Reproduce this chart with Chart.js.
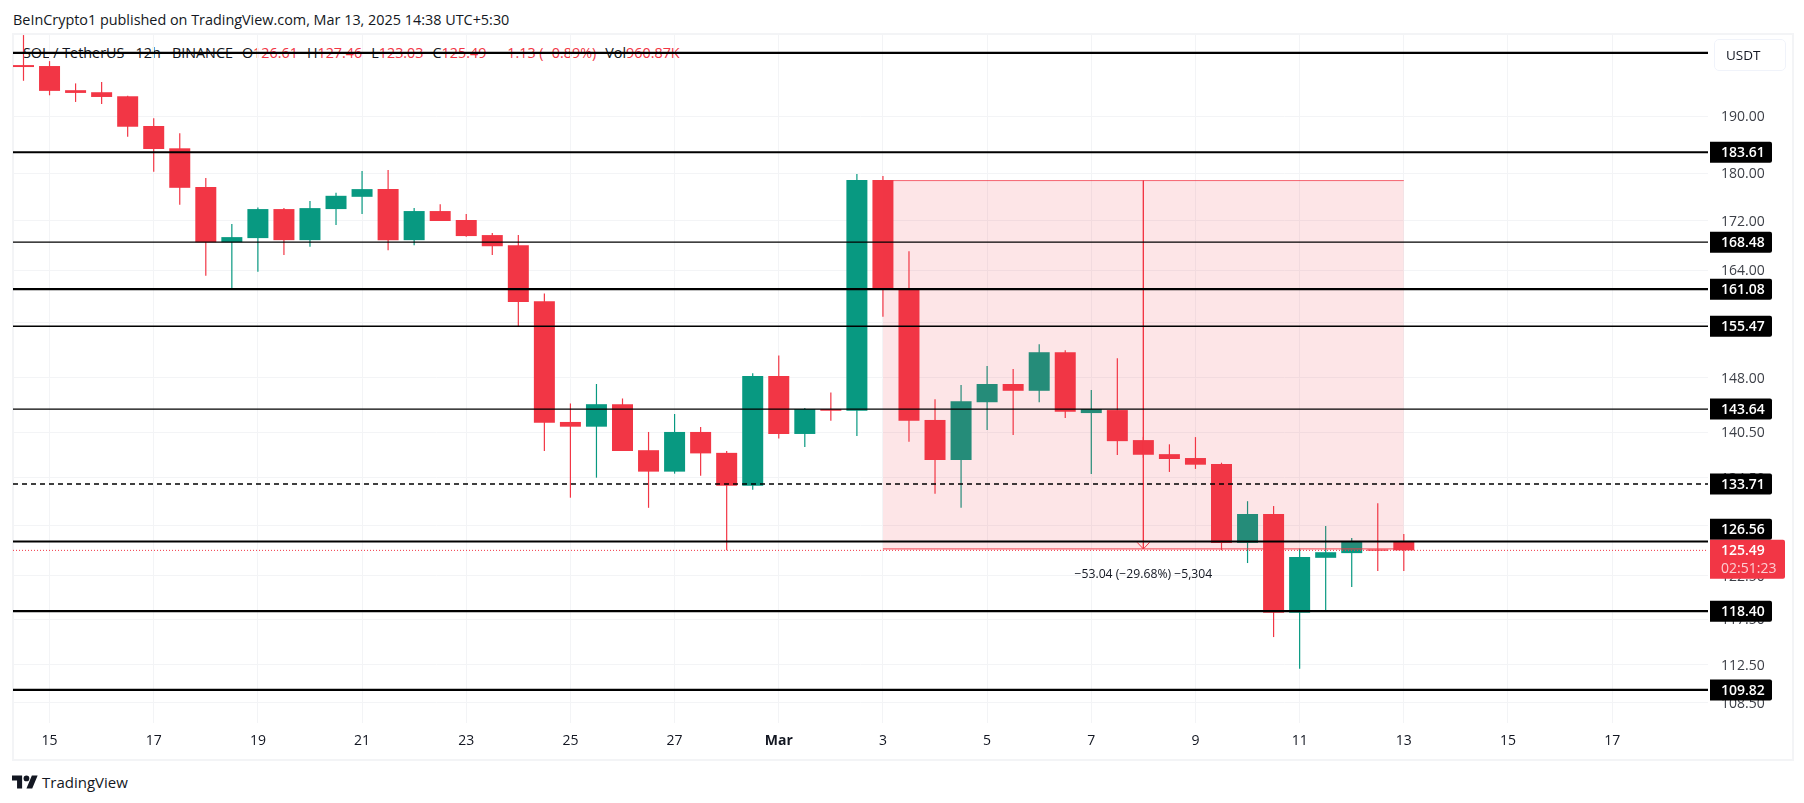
<!DOCTYPE html>
<html>
<head>
<meta charset="utf-8">
<title>SOL / TetherUS 12h</title>
<script src="https://cdn.jsdelivr.net/npm/chart.js@4/dist/chart.umd.min.js"></script>
<style>
    html, body { margin: 0; padding: 0; background: #fff; }
    body { width: 1804px; height: 803px; position: relative; overflow: hidden; font-family: "Open Sans", sans-serif; color: #131722; }
    #panel { position: absolute; left: 12px; top: 33px; width: 1778px; height: 724px; border: 2px solid #f3f4f6; }
    #mpr { position: absolute; left: 0; top: 0; z-index: 1; }
    #published { position: absolute; left: 13px; top: 10px; font-size: 14.4px; line-height: 20px; white-space: nowrap; }
    #legend { position: absolute; left: 23px; top: 43px; font-size: 14.35px; line-height: 20px; white-space: nowrap; color: #F23645; }
    #legend b { font-weight: normal; color: #131722; margin-left: 9px; }
    #legend b:first-child { margin-left: 0; }
    #currency { position: absolute; left: 1714px; top: 39px; width: 70px; height: 30px; border: 1px solid #f0f3fa; border-radius: 5px; font-size: 13.5px; line-height: 30px; text-indent: 11px; z-index: 2; }
    #brand { position: absolute; left: 12px; top: 772px; font-size: 15px; line-height: 20px; white-space: nowrap; }
    #brand svg { position: absolute; left: 0; top: 3px; }
    #brand span { margin-left: 30px; }
</style>
</head>
<body>
<div id="panel"></div>
<div id="published">BeInCrypto1 published on TradingView.com, Mar 13, 2025 14:38 UTC+5:30</div>
<div id="legend"><b>SOL / TetherUS · 12h · BINANCE</b><b>O</b>126.61<b>H</b>127.46<b>L</b>123.03<b>C</b>125.49<b></b> −1.13 (−0.89%)<b>Vol</b>960.87K</div>
<div id="currency">USDT</div>
<div id="brand"><svg width="26" height="14" viewBox="0 4 36 18"><path fill="#131722" d="M14 22H7V11H0V4h14v18zM28 22h-8l7.5-18h8L28 22z"/><circle fill="#131722" cx="20" cy="8" r="4"/></svg><span>TradingView</span></div>
<canvas id="mpr" width="1804" height="803"></canvas>

<script>
    // 12h candles, Feb 14 evening to Mar 13
    const opens = [199.56, 199.38, 194.83, 194.45, 193.70, 188.27, 184.30, 177.59, 168.48, 169.14,
        173.90, 168.81, 173.90, 175.95, 177.25, 168.81, 173.57, 172.09, 169.63, 168.00,
        159.24, 141.88, 141.24, 144.31, 138.10, 135.30, 140.53, 137.75, 133.49, 148.25,
        140.26, 143.64, 143.41, 178.80, 161.05, 142.15, 136.81, 144.58, 147.12, 146.17,
        151.66, 143.09, 143.50, 139.44, 137.58, 137.07, 136.29, 126.39, 129.93, 118.23,
        124.60, 125.16, 125.60, 126.61];
    const highs = [205.37, 200.32, 196.10, 196.35, 193.80, 189.66, 186.95, 179.14, 171.44, 174.18,
        174.06, 175.25, 176.62, 180.34, 180.52, 174.06, 174.72, 173.08, 169.96, 169.63,
        160.42, 144.41, 147.12, 145.10, 140.53, 142.96, 141.20, 138.00, 148.64, 151.20,
        143.77, 145.94, 179.83, 179.50, 167.03, 145.00, 146.97, 149.67, 149.25, 152.83,
        151.96, 146.27, 150.80, 139.90, 138.88, 139.84, 136.46, 131.53, 130.92, 125.71,
        128.45, 126.97, 131.28, 127.46];
    const lows = [196.59, 193.88, 192.65, 192.29, 186.34, 180.22, 174.60, 163.17, 161.24, 163.79,
        166.42, 167.75, 171.27, 173.08, 167.20, 168.00, 171.93, 169.35, 166.42, 155.41,
        138.01, 131.97, 134.52, 138.01, 130.70, 135.04, 134.78, 125.50, 132.97, 139.64,
        138.53, 142.05, 140.00, 156.90, 139.21, 132.47, 130.70, 140.79, 140.12, 144.58,
        142.42, 135.00, 137.47, 137.10, 135.26, 135.65, 125.50, 123.98, 115.51, 112.05,
        118.53, 121.17, 123.05, 123.03];
    const closes = [199.19, 194.70, 194.32, 193.57, 188.14, 184.18, 177.47, 168.48, 169.30, 173.90,
        168.81, 174.06, 176.12, 177.25, 168.81, 173.57, 171.93, 169.47, 167.83, 159.12,
        141.78, 141.24, 144.31, 138.01, 135.30, 140.53, 137.68, 133.49, 148.25, 140.26,
        143.64, 143.41, 178.80, 161.24, 142.05, 136.81, 144.72, 147.12, 146.17, 151.66,
        143.27, 143.64, 139.30, 137.50, 136.94, 136.20, 126.39, 129.93, 118.23, 124.69,
        125.27, 126.50, 125.45, 125.49];

    const priceTicks = [190, 180, 172, 164, 156, 148, 140.5, 134.5, 128.5, 122.5, 117.5, 112.5, 108.5];
    const dateTicks = [1, 5, 9, 13, 17, 21, 25, 29, 33, 37, 41, 45, 49, 53, 57, 61];
    const dateLabels = ['15', '17', '19', '21', '23', '25', '27', 'Mar', '3', '5', '7', '9', '11', '13', '15', '17'];

    const boldLevels = [201.9, 183.61, 161.08, 126.56, 118.40, 109.82];
    const thinLevels = [168.48, 155.47, 143.64];
    const dashedLevels = [133.71];
    const taggedLevels = [183.61, 168.48, 161.08, 155.47, 143.64, 133.71, 126.56, 118.40, 109.82];
    const lastPrice = 125.49;
    const countdown = '02:51:23';

    const shortFrom = 33, shortTo = 53, shortMid = 43;
    const shortTop = 178.70, shortBottom = 125.66;
    const shortLabel = '−53.04 (−29.68%) −5,304';

    const RED = '#F23645', GREEN = '#089981';
    const FONT = '"Open Sans", sans-serif';
    const X_MIN = -0.403, X_MAX = 64.68;

    document.addEventListener("DOMContentLoaded", () => {

        const candleColor = opens.map((o, i) => closes[i] >= o ? GREEN : RED);

        const hLine = (value, width, dash, color) => ({
            type: 'line',
            order: 1,
            data: [{x: X_MIN, y: value}, {x: X_MAX, y: value}],
            borderColor: color || '#000',
            borderWidth: width,
            borderDash: dash || [],
            pointRadius: 0,
            fill: false,
        });

        const targetLine = (points, width) => ({
            type: 'line',
            order: 2,
            data: points,
            borderColor: RED,
            borderWidth: width,
            pointRadius: 0,
            fill: false,
        });

        let dataSets = [
            {
                type: 'bar',
                order: 5,
                grouped: false,
                barThickness: 1.2,
                data: highs.map((h, i) => ({x: i, y: [lows[i], h]})),
                backgroundColor: candleColor,
                borderWidth: 0,
                inflateAmount: 0,
            },
            {
                type: 'bar',
                order: 4,
                grouped: false,
                barThickness: 21,
                data: opens.map((o, i) => ({x: i, y: [Math.min(o, closes[i]), Math.max(o, closes[i])]})),
                backgroundColor: candleColor,
                borderWidth: 0,
                inflateAmount: 0,
            },
            {
                type: 'line',
                order: 3,
                data: [{x: shortFrom, y: shortTop}, {x: shortTo, y: shortTop}],
                borderColor: 'rgba(242, 54, 69, 0.75)',
                borderWidth: 1,
                backgroundColor: 'rgba(242, 54, 69, 0.13)',
                fill: {value: shortBottom},
                pointRadius: 0,
            },
            targetLine([{x: shortFrom, y: shortBottom}, {x: shortTo, y: shortBottom}], 1),
            targetLine([{x: shortMid, y: shortTop}, {x: shortMid, y: shortBottom}], 1),
            targetLine([{x: shortMid - 0.24, y: shortBottom + 0.8}, {x: shortMid, y: shortBottom}, {x: shortMid + 0.24, y: shortBottom + 0.8}], 1),
            hLine(lastPrice, 1, [1, 2], RED),
        ];

        boldLevels.forEach((v) => dataSets.push(hLine(v, 2.2)));
        thinLevels.forEach((v) => dataSets.push(hLine(v, 1.3)));
        dashedLevels.forEach((v) => dataSets.push(hLine(v, 1.4, [5, 4])));

        const priceTags = {
            id: 'priceTags',
            afterDraw(chart) {
                const c = chart.ctx, y = chart.scales.y, x = chart.scales.x;
                const lastY = y.getPixelForValue(lastPrice);
                c.save();
                c.textBaseline = 'middle';
                c.textAlign = 'left';
                c.font = '600 14px ' + FONT;

                taggedLevels.forEach((v) => {
                    let py = y.getPixelForValue(v);
                    // a tag that would run into the last price tag is pushed above it
                    if (Math.abs(py - lastY) < 21) {
                        py = lastY - 21;
                    }
                    c.fillStyle = '#000';
                    c.beginPath();
                    c.roundRect(1710, py - 10.5, 62, 21, [0, 2, 2, 0]);
                    c.fill();
                    c.fillStyle = '#fff';
                    c.fillText(v.toFixed(2), 1721, py + 1);
                });

                c.fillStyle = RED;
                c.beginPath();
                c.roundRect(1710, lastY - 10.5, 75, 39, [0, 2, 2, 0]);
                c.fill();
                c.fillStyle = '#fff';
                c.fillText(lastPrice.toFixed(2), 1721, lastY + 1);
                c.font = '14px ' + FONT;
                c.fillStyle = 'rgba(255, 255, 255, 0.75)';
                c.fillText(countdown, 1721, lastY + 19);

                c.fillStyle = '#131722';
                c.font = '12.2px ' + FONT;
                c.textAlign = 'center';
                c.fillText(shortLabel, x.getPixelForValue(shortMid), y.getPixelForValue(shortBottom) + 26);
                c.restore();
            }
        };

        new Chart(document.getElementById('mpr'), {
            data: {datasets: dataSets},
            plugins: [priceTags],
            options: {
                responsive: false,
                animation: false,
                layout: {padding: {left: 13, top: 34, right: 12, bottom: 44}},
                plugins: {legend: {display: false}, tooltip: {enabled: false}},
                scales: {
                    x: {
                        type: 'linear',
                        offset: false,
                        min: X_MIN,
                        max: X_MAX,
                        afterBuildTicks: (axis) => { axis.ticks = dateTicks.map((v) => ({value: v})); },
                        afterFit: (axis) => { axis.height = 36; },
                        grid: {color: '#f3f4f6', drawTicks: false, offset: false},
                        border: {display: false},
                        ticks: {
                            autoSkip: false,
                            maxRotation: 0,
                            padding: 10,
                            color: '#131722',
                            font: (ctx) => ({family: FONT, size: 14, weight: dateLabels[ctx.index] === 'Mar' ? 'bold' : 'normal'}),
                            callback: (value, index) => dateLabels[index],
                        },
                    },
                    y: {
                        type: 'logarithmic',
                        position: 'right',
                        min: 106.40,
                        max: 205.58,
                        afterBuildTicks: (axis) => { axis.ticks = priceTicks.map((v) => ({value: v})); },
                        afterFit: (axis) => { axis.width = 84; },
                        grid: {color: '#f3f4f6', drawTicks: false},
                        border: {display: false},
                        ticks: {
                            autoSkip: false,
                            padding: 13,
                            labelOffset: 1,
                            color: '#3c3f47',
                            font: {family: FONT, size: 14},
                            callback: (value) => Number(value).toFixed(2),
                        },
                    },
                },
            },
        });
    });
</script>
</body>
</html>
